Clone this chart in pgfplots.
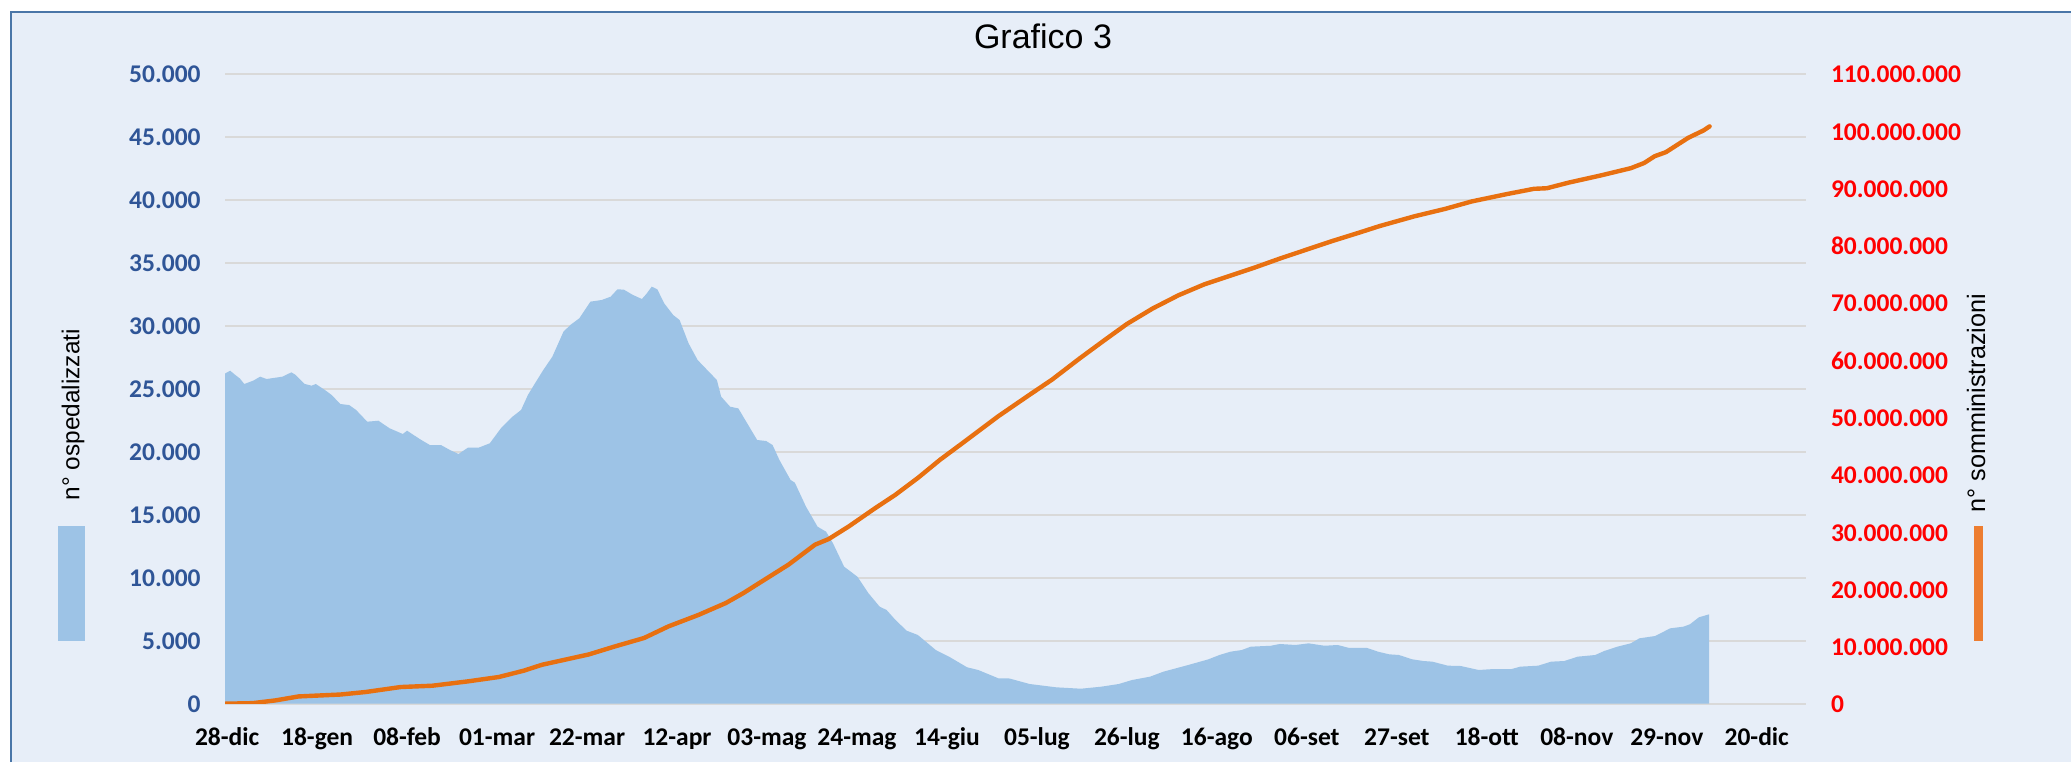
\documentclass[border=0pt]{standalone}
\usepackage{fontspec}
\setmainfont{Liberation Sans}
\newfontfamily\carlito{Carlito}
\usepackage{pgfplots}
\pgfplotsset{compat=1.18}
\definecolor{bgc}{HTML}{E7EEF8}
\definecolor{framec}{HTML}{4A76A8}
\definecolor{areac}{HTML}{9DC3E6}
\definecolor{linec}{HTML}{E87010}
\definecolor{legorange}{HTML}{ED7D31}
\definecolor{leftc}{HTML}{2F5597}
\definecolor{rightc}{HTML}{FF0000}
\definecolor{gridc}{HTML}{D9D9D9}
\begin{document}
\begin{tikzpicture}
\path[use as bounding box] (0,0) rectangle (1035.5pt,381pt);
\fill[white] (0,0) rectangle (1035.5pt,381pt);
\fill[bgc] (5.5pt,0) rectangle (1035.5pt,375pt);
\draw[framec, line width=1.2pt] (5.5pt,0) -- (5.5pt,375pt) -- (1035.5pt,375pt);
\begin{axis}[
  at={(112.5pt,29.15pt)}, anchor=south west,
  scale only axis, width=790.5pt, height=315pt,
  xmin=-0.5, xmax=368.5, ymin=0, ymax=50000,
  axis line style={draw=none}, tick style={draw=none},
  scaled y ticks=false, scaled x ticks=false,
  ytick={0,5000,10000,15000,20000,25000,30000,35000,40000,45000,50000},
  yticklabels={0,5.000,10.000,15.000,20.000,25.000,30.000,35.000,40.000,45.000,50.000},
  ymajorgrids, grid style={gridc, line width=0.9pt},
  xtick={0,21,42,63,84,105,126,147,168,189,210,231,252,273,294,315,336,357},
  xticklabels={28-dic,18-gen,08-feb,01-mar,22-mar,12-apr,03-mag,24-mag,14-giu,05-lug,26-lug,16-ago,06-set,27-set,18-ott,08-nov,29-nov,20-dic},
  ticklabel style={font=\carlito\bfseries\fontsize{12.75}{14}\selectfont},
  yticklabel style={anchor=base east, inner sep=0pt, xshift=-12pt, yshift=-4.6pt, text=leftc},
  xticklabel style={anchor=base, inner sep=0pt, yshift=-20.65pt, text=black},
]
\addplot[fill=areac, draw=none] coordinates {
(-0.5,26200) (0.7,26430) (1.9,26090) (3,25800) (4,25375) (6.1,25640) (7.7,25955) (9.2,25770)
(11.3,25875) (12.9,25955) (15,26300) (16,26090) (18.1,25375) (19.7,25240) (20.7,25375) (22.8,24900)
(24.4,24500) (26.4,23787) (28.5,23700) (30.1,23310) (32.7,22382) (35.3,22460) (37.9,21860) (41,21405)
(42,21670) (44.7,21060) (47.3,20530) (49.9,20530) (52,20135) (54,19818) (56.2,20320) (58.7,20320)
(61.3,20666) (63.9,21860) (66.6,22780) (68.6,23310) (70.2,24500) (71.8,25400) (73.8,26490) (75.9,27540)
(78.5,29525) (80.1,30058) (82.2,30590) (84.8,31910) (87.4,32040) (89.5,32300) (91.1,32890) (92.6,32860)
(94.7,32440) (96.8,32120) (97.8,32500) (99.1,33100) (100.4,32890) (102,31780) (104.1,30850) (105.6,30450)
(107.7,28600) (109.8,27280) (112,26500) (114.3,25690) (115.3,24370) (117.4,23570) (119.3,23440) (123.7,20930)
(125.8,20850) (127.3,20530) (128.9,19340) (131.5,17760) (132.5,17540) (135.1,15640) (137.8,14050) (139.8,13650)
(141.4,12730) (144,10875) (147.1,10080) (149.7,8760) (152.3,7700) (153.9,7440) (156,6640) (158.6,5795)
(161.2,5455) (165.4,4260) (168.5,3730) (172.7,2890) (175.3,2675) (180,2015) (182.6,2000) (187.3,1564)
(193.5,1300) (199.3,1190) (204,1350) (208.1,1564) (211.2,1880) (215.4,2145) (218.5,2540) (224.3,3070)
(229,3520) (231.6,3865) (234.2,4130) (236.8,4260) (238.9,4525) (243.6,4600) (245.7,4740) (249.3,4660)
(252.4,4790) (256.1,4600) (259.2,4660) (261.8,4430) (266,4430) (268.6,4130) (271.2,3920) (273.5,3865)
(276.6,3522) (279.2,3389) (281.3,3336) (284.9,3019) (287.9,2992) (292.1,2675) (295.7,2754) (299.8,2754)
(301.8,2939) (306,3019) (309,3336) (312.1,3389) (315.2,3733) (319.3,3865) (321.4,4183) (324.5,4527)
(327.6,4791) (329.6,5188) (333.3,5373) (336.8,5982) (339.9,6114) (341.4,6302) (343.5,6857) (345.9,7095)
} \closedcycle;
\end{axis}
\begin{axis}[
  at={(112.5pt,29.15pt)}, anchor=south west,
  scale only axis, width=790.5pt, height=315pt,
  xmin=-0.5, xmax=368.5, ymin=0, ymax=110000000,
  hide x axis, axis y line*=right,
  axis line style={draw=none}, tick style={draw=none},
  scaled y ticks=false,
  ytick={0,10000000,20000000,30000000,40000000,50000000,60000000,70000000,80000000,90000000,100000000,110000000},
  yticklabels={0,10.000.000,20.000.000,30.000.000,40.000.000,50.000.000,60.000.000,70.000.000,80.000.000,90.000.000,100.000.000,110.000.000},
  ticklabel style={font=\carlito\bfseries\fontsize{12.75}{14}\selectfont},
  yticklabel style={anchor=base west, inner sep=0pt, xshift=12.3pt, yshift=-4.6pt, text=rightc},
]
\addplot[linec, line width=2.2pt, line join=round, line cap=round] coordinates {
(-0.5,0) (6,100000) (11.3,580000) (16.7,1270000) (26.4,1600000) (32.3,2040000) (40.5,2910000) (47.9,3140000)
(56.2,3900000) (63.4,4660000) (69.2,5760000) (73.5,6800000) (84.4,8600000) (90.5,10000000) (97.3,11470000)
(103,13500000) (110,15500000) (116.4,17580000) (120.5,19320000) (124.2,21070000) (131,24270000) (137.2,27760000)
(140.4,28750000) (145.1,30960000) (151.3,34170000) (156,36490000) (161.2,39410000) (166.4,42600000)
(172.7,46100000) (180,50200000) (187.3,53950000) (192.5,56570000) (199,60300000) (205,63600000)
(210,66300000) (216,69000000) (222,71300000) (228,73200000) (234,74700000) (240,76200000) (246,77800000)
(252,79300000) (258,80800000) (264,82200000) (269,83400000) (277.1,85100000) (284.3,86400000)
(290.5,87700000) (298.8,89000000) (305,89900000) (308,90000000) (313.2,91000000) (320.4,92200000)
(327.6,93500000) (330.7,94400000) (333.2,95600000) (335.8,96300000) (341,98800000) (344.6,100100000)
(346,100800000)
};
\end{axis}
\node[anchor=base, inner sep=0pt, font=\fontsize{17}{20}\selectfont] at (521.5pt,356.85pt) {Grafico 3};
\fill[areac] (29pt,60.65pt) rectangle (42.5pt,118pt);
\node[rotate=90, anchor=west, inner sep=0pt, font=\fontsize{12.2}{14}\selectfont] at (36.5pt,130.65pt) {n° ospedalizzati};
\fill[legorange] (987pt,60.65pt) rectangle (991.65pt,118pt);
\node[rotate=90, anchor=west, inner sep=0pt, font=\fontsize{12.6}{14}\selectfont] at (988pt,124.5pt) {n° somministrazioni};
\end{tikzpicture}
\end{document}
